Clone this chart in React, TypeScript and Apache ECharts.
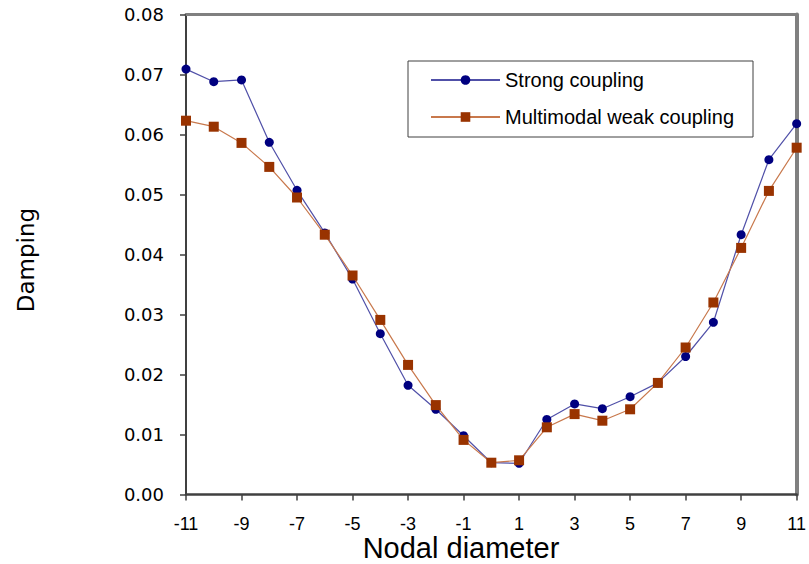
import React, { useEffect, useRef } from "react";
import * as echarts from "echarts";

const nodalDiameters = [-11, -10, -9, -8, -7, -6, -5, -4, -3, -2, -1, 0, 1, 2, 3, 4, 5, 6, 7, 8, 9, 10, 11];
const strongCoupling = [
  0.0709, 0.0688, 0.0691, 0.0587, 0.0507, 0.0436, 0.0359, 0.0268, 0.0182, 0.0142, 0.0098, 0.0053,
  0.0052, 0.0125, 0.0151, 0.0143, 0.0163, 0.0186, 0.023, 0.0287, 0.0433, 0.0558, 0.0618,
];
const weakCoupling = [
  0.0623, 0.0613, 0.0586, 0.0546, 0.0495, 0.0433, 0.0365, 0.0291, 0.0216, 0.0149, 0.0091, 0.0053,
  0.0057, 0.0112, 0.0134, 0.0123, 0.0142, 0.0186, 0.0245, 0.032, 0.0411, 0.0506, 0.0578,
];
const seriesNames = ["Strong coupling", "Multimodal weak coupling"];
const xAxisTitle = "Nodal diameter";
const yAxisTitle = "Damping";

export default function App() {
  const ref = useRef<HTMLDivElement>(null);

  useEffect(() => {
    document.body.style.margin = "0";
    if (!ref.current) return;
    const chart = echarts.init(ref.current, null, { renderer: "svg" });
    const pairs = (vals: number[]) => nodalDiameters.map((x, i) => [x, vals[i]]);
    chart.setOption({
      animation: false,
      backgroundColor: "#ffffff",
      grid: { left: 186, right: 8, top: 14.5, bottom: 69.5, containLabel: false },
      legend: {
        left: 408,
        top: 61,
        orient: "vertical",
        padding: [9, 19, 10, 22],
        itemWidth: 69,
        itemHeight: 12,
        itemGap: 17,
        backgroundColor: "#ffffff",
        borderColor: "#404040",
        borderWidth: 1,
        borderRadius: 0,
        textStyle: { fontFamily: "Liberation Sans", fontSize: 20, color: "#000" },
        data: seriesNames,
      },
      graphic: [
        {
          type: "text",
          x: 26,
          y: 260,
          rotation: Math.PI / 2,
          style: {
            text: yAxisTitle,
            fontFamily: "DejaVu Sans",
            fontSize: 23,
            fill: "#000",
            align: "center",
            verticalAlign: "middle",
          },
        },
        {
          type: "text",
          x: 461,
          y: 548,
          style: {
            text: xAxisTitle,
            fontFamily: "Liberation Sans",
            fontSize: 29,
            fill: "#000",
            align: "center",
            verticalAlign: "middle",
          },
        },
      ],
      xAxis: [
        {
          type: "value",
          min: -11,
          max: 11,
          interval: 2,
          axisLine: { show: true, onZero: false, lineStyle: { color: "#404040", width: 2.5 } },
          axisTick: { show: true, inside: false, length: 6, lineStyle: { color: "#404040", width: 1.5 } },
          axisLabel: { fontFamily: "Liberation Sans", fontSize: 18, color: "#000", margin: 20 },
          splitLine: { show: false },
        },
        {
          type: "value",
          position: "top",
          min: -11,
          max: 11,
          interval: 2,
          axisLine: { show: true, onZero: false, lineStyle: { color: "#808080", width: 3 } },
          axisTick: { show: false },
          axisLabel: { show: false },
          splitLine: { show: false },
        },
      ],
      yAxis: [
        {
          type: "value",
          min: 0,
          max: 0.08,
          interval: 0.01,
          axisLine: { show: true, onZero: false, lineStyle: { color: "#404040", width: 2 } },
          axisTick: { show: true, inside: false, length: 6, lineStyle: { color: "#404040", width: 1.5 } },
          axisLabel: {
            fontFamily: "DejaVu Sans",
            fontSize: 18,
            color: "#000",
            margin: 22,
            formatter: (v: number) => v.toFixed(2),
          },
          splitLine: { show: false },
        },
        {
          type: "value",
          position: "right",
          min: 0,
          max: 0.08,
          interval: 0.01,
          axisLine: { show: true, onZero: false, lineStyle: { color: "#808080", width: 4 } },
          axisTick: { show: false },
          axisLabel: { show: false },
          splitLine: { show: false },
        },
      ],
      series: [
        {
          name: seriesNames[0],
          type: "line",
          data: pairs(strongCoupling),
          symbol: "circle",
          symbolSize: 9,
          itemStyle: { color: "#000080" },
          lineStyle: { color: "#5050a8", width: 1.2 },
          z: 2,
        },
        {
          name: seriesNames[1],
          type: "line",
          data: pairs(weakCoupling),
          symbol: "rect",
          symbolSize: 10,
          itemStyle: { color: "#993300" },
          lineStyle: { color: "#c8784c", width: 1.2 },
          z: 3,
        },
      ],
    });
    return () => chart.dispose();
  }, []);

  return <div ref={ref} style={{ width: 809, height: 564 }} />;
}
